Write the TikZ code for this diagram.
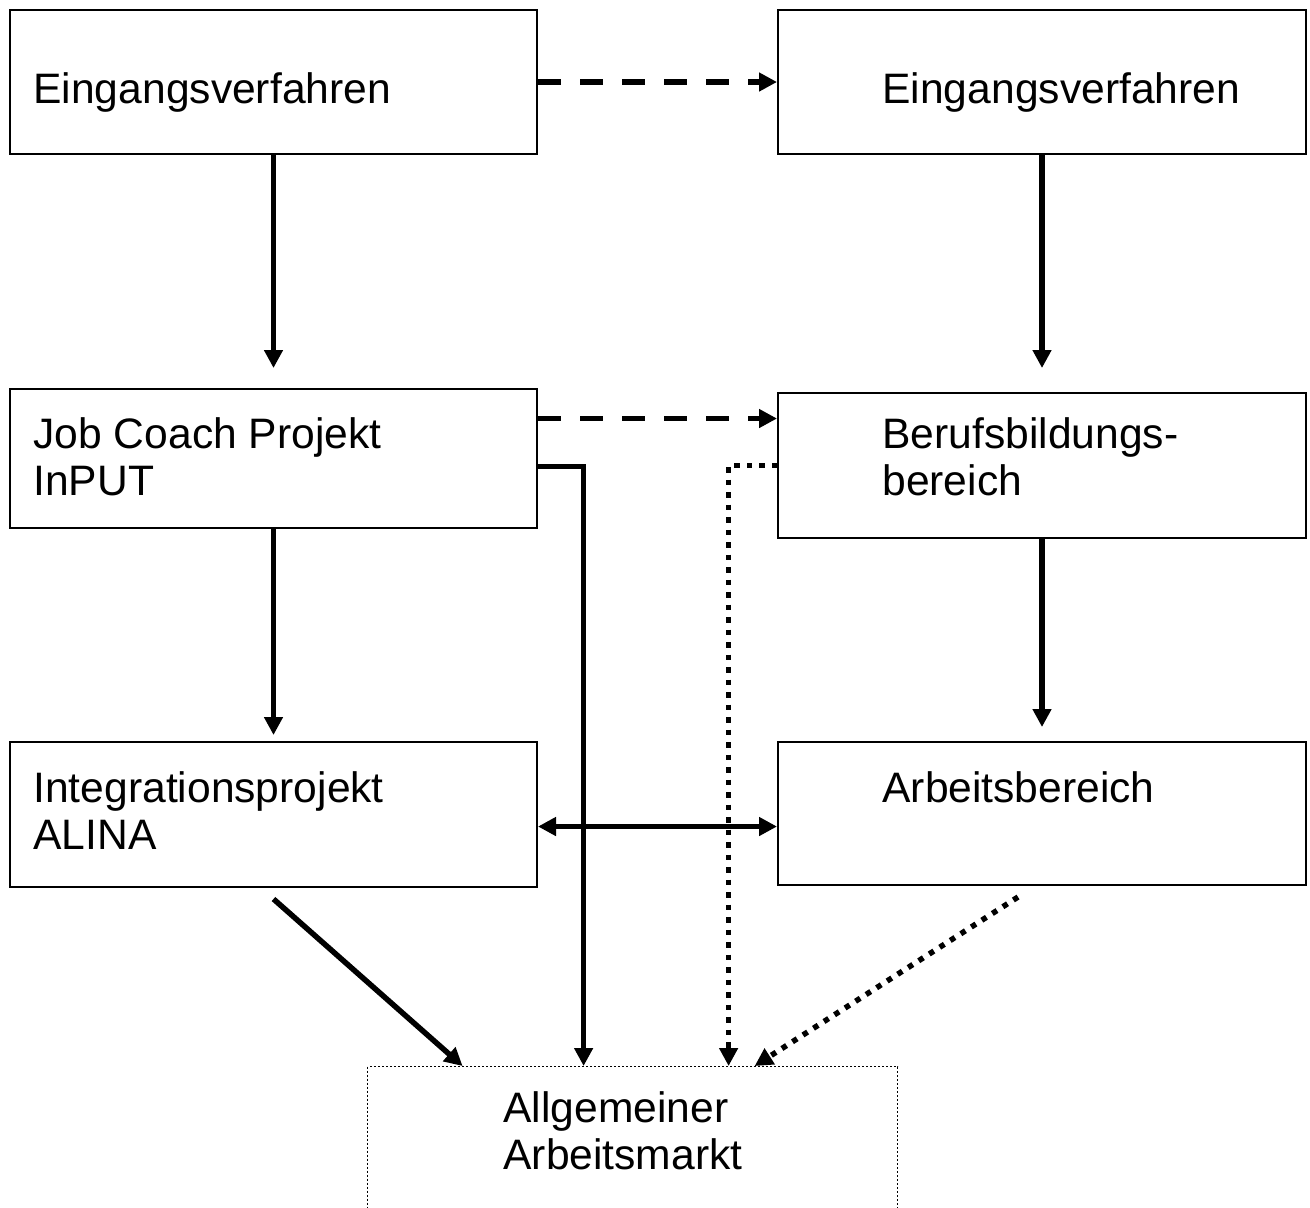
\documentclass[tikz,border=0pt]{standalone}
\usepackage{fontspec}
\setmainfont{Liberation Sans}
\usetikzlibrary{arrows.meta}
\tikzset{
  box/.style={draw, line width=1pt, anchor=north west, inner sep=0pt},
  lbl/.style={anchor=base west, inner sep=0pt, font=\fontsize{21.3}{23.5}\selectfont},
  conn/.style={line width=2.75pt, -{Triangle[length=9pt,width=9pt]}},
  bothconn/.style={line width=2.75pt, {Triangle[length=9pt,width=9pt]}-{Triangle[length=9pt,width=9pt]}},
  dashline/.style={dash pattern=on 11.5pt off 9.5pt},
  dotline/.style={dash pattern=on 2.75pt off 3.5pt},
}
\begin{document}
\begin{tikzpicture}[x=0.5pt,y=-0.5pt]
\useasboundingbox (0,0) rectangle (1310,1207);
\clip (0,0) rectangle (1310,1207);
% boxes
\node[box, minimum width=263.5pt, minimum height=72pt] (a1) at (9,9) {};
\node[box, minimum width=264pt, minimum height=72pt] (b1) at (777,9) {};
\node[box, minimum width=263.5pt, minimum height=69.5pt] (a2) at (9,388) {};
\node[box, minimum width=264pt, minimum height=72.5pt] (b2) at (777,392) {};
\node[box, minimum width=263.5pt, minimum height=72.5pt] (a3) at (9,741) {};
\node[box, minimum width=264pt, minimum height=71.5pt] (b3) at (777,741) {};
\node[box, draw, line width=0.6pt, dash pattern=on 1pt off 1pt, minimum width=265pt, minimum height=80pt] (c) at (367,1066) {};
% texts
\node[lbl] (ta1) at (33,103) {Eingangsverfahren};
\node[lbl] (tb1) at (882,103) {Eingangsverfahren};
\node[lbl] (ta2) at (33,448) {\begin{tabular}[t]{@{}l@{}}Job Coach Projekt\\InPUT\end{tabular}};
\node[lbl] (tb2) at (882,448) {\begin{tabular}[t]{@{}l@{}}Berufsbildungs-\\bereich\end{tabular}};
\node[lbl] (ta3) at (33,802) {\begin{tabular}[t]{@{}l@{}}Integrationsprojekt\\ALINA\end{tabular}};
\node[lbl] (tb3) at (882,802) {Arbeitsbereich};
\node[lbl] (tc) at (503,1122) {\begin{tabular}[t]{@{}l@{}}Allgemeiner\\Arbeitsmarkt\end{tabular}};
% connectors
\draw[conn, shorten >=10pt] (a1.south) -- (a2.north);
\draw[conn, shorten >=12pt] (b1.south) -- (b2.north);
\draw[conn, shorten >=3pt] (a2.south) -- (a3.north);
\draw[conn, shorten >=7pt] (b2.south) -- (b3.north);
\draw[conn, dashline] (a1.east) -- (b1.west);
\draw[conn, dashline] ([yshift=20pt]a2.east) -- ([yshift=20pt]a2.east -| b2.west);
\draw[bothconn] ([yshift=-6pt]a3.east) -- ([yshift=-6pt]a3.east -| b3.west);
\draw[conn] ([yshift=-4pt]a2.east) -| ([xshift=-24.5pt]c.north);
\draw[conn, dotline] (b2.west) -| ([xshift=48pt]c.north);
\draw[conn] ([yshift=-5.5pt]a3.south) -- ([xshift=-85pt]c.north);
\draw[conn, dotline] ([xshift=-12pt,yshift=-5.5pt]b3.south) -- ([xshift=61pt]c.north);
\end{tikzpicture}
\end{document}
